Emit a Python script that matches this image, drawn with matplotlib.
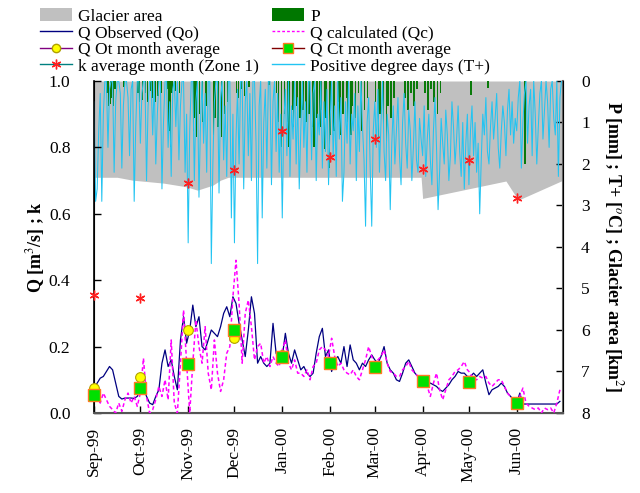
import numpy as np
import pandas as pd
import matplotlib
matplotlib.use("Agg")
import matplotlib.pyplot as plt
from matplotlib.lines import Line2D
from matplotlib.patches import Patch

plt.rcParams['font.family'] = ['Liberation Serif', 'DejaVu Serif']
plt.rcParams['mathtext.fontset'] = 'stix'

# ---------------- data ----------------
start = pd.Timestamp('1999-09-01')
n_days = 304
dates = pd.date_range(start, periods=n_days, freq='D')
month_starts = pd.date_range(start, periods=10, freq='MS')

# Observed discharge Qo (m3/s), every 2 days
qo = [0.075, 0.09, 0.105, 0.11, 0.125, 0.14, 0.13, 0.09, 0.05, 0.042,
      0.045, 0.045, 0.045, 0.044, 0.05, 0.07, 0.075, 0.05, 0.03, 0.025,
      0.05, 0.07, 0.15, 0.19, 0.14, 0.16, 0.11, 0.07, 0.22, 0.29,
      0.21, 0.25, 0.325, 0.26, 0.29, 0.2, 0.19, 0.22, 0.25, 0.24,
      0.23, 0.26, 0.3, 0.32, 0.29, 0.35, 0.33, 0.27, 0.22, 0.17,
      0.25, 0.35, 0.3, 0.15, 0.17, 0.15, 0.14, 0.15, 0.27, 0.18,
      0.16, 0.17, 0.24, 0.18, 0.15, 0.19, 0.16, 0.13, 0.14, 0.12,
      0.11, 0.12, 0.18, 0.23, 0.255, 0.17, 0.19, 0.125, 0.16, 0.17,
      0.15, 0.2, 0.14, 0.205, 0.16, 0.15, 0.13, 0.15, 0.14, 0.16,
      0.175, 0.16, 0.15, 0.17, 0.2, 0.15, 0.13, 0.12, 0.1, 0.095,
      0.12, 0.15, 0.16, 0.14, 0.12, 0.11, 0.1, 0.1, 0.09, 0.09,
      0.085, 0.08, 0.07, 0.065, 0.075, 0.085, 0.1, 0.11, 0.125, 0.12,
      0.12, 0.11, 0.11, 0.12, 0.11, 0.12, 0.13, 0.09, 0.055, 0.07,
      0.075, 0.08, 0.09, 0.08, 0.06, 0.05, 0.04, 0.03, 0.06, 0.027,
      0.027, 0.027, 0.027, 0.027, 0.027, 0.027, 0.027, 0.027, 0.027, 0.027,
      0.027, 0.035]

# Calculated discharge Qc (m3/s), every 2 days
qc = [0.09, 0.05, 0.03, 0.06, 0.04, 0.02, 0.01, 0.0, 0.03, 0.005,
      0.04, 0.06, 0.03, 0.05, 0.02, 0.06, 0.165, 0.05, 0.0, 0.01,
      0.04, 0.08, 0.05, 0.1, 0.04, 0.22, 0.03, 0.0, 0.15, 0.31,
      0.15, 0.0, 0.15, 0.28, 0.2, 0.15, 0.26, 0.12, 0.07, 0.22,
      0.12, 0.065, 0.1, 0.18, 0.2, 0.35, 0.46, 0.33, 0.15, 0.3,
      0.34, 0.26, 0.16, 0.2, 0.21, 0.15, 0.17, 0.14, 0.17, 0.15,
      0.14, 0.19, 0.22, 0.15, 0.13, 0.16, 0.12, 0.12, 0.11, 0.13,
      0.1, 0.14, 0.15, 0.19, 0.2, 0.19, 0.17, 0.225, 0.17, 0.14,
      0.15, 0.13, 0.12, 0.115, 0.13, 0.11, 0.1, 0.13, 0.16, 0.2,
      0.17, 0.15, 0.16, 0.17, 0.19, 0.15, 0.125, 0.12, 0.11, 0.11,
      0.13, 0.14, 0.155, 0.13, 0.12, 0.11, 0.1, 0.09, 0.08, 0.05,
      0.09, 0.12, 0.07, 0.04, 0.07, 0.1, 0.11, 0.125, 0.13, 0.14,
      0.155, 0.13, 0.12, 0.1, 0.1, 0.11, 0.105, 0.11, 0.09, 0.08,
      0.09, 0.1, 0.1, 0.08, 0.06, 0.05, 0.04, 0.03, 0.05, 0.075,
      0.03, 0.02, 0.015, 0.01, 0.015, 0.0, 0.015, 0.01, 0.015, 0.0,
      0.03, 0.07]

# Monthly averages (Sep-99 ... Jun-00)
qo_month = [0.075, 0.108, 0.25, 0.226, 0.175, 0.155, 0.14, 0.095, 0.09, 0.03]
qc_month = [0.054, 0.075, 0.148, 0.25, 0.17, 0.152, 0.14, 0.095, 0.094, 0.03]
k_month = [0.355, 0.347, 0.694, 0.732, 0.85, 0.77, 0.825, 0.735, 0.762, 0.648]

# Positive degree days T+ (daily), one row per month
tplus = (
    [0.5, 2.9, 2.6, 1.2, 0.3, 2.9, 0.8, 0.0, 0.0, 1.6, 0.2, 0.0, 0.0, 2.2, 0.5,
     0.0, 0.0, 0.3, 2.1, 0.6, 0.0, 0.0, 0.4, 1.8, 0.2, 0.0, 2.9, 1.1, 0.0, 0.0] +
    [1.5, 0.3, 0.0, 0.0, 2.4, 0.6, 0.0, 0.0, 1.3, 0.0, 2.0, 0.8, 0.0, 0.0, 2.6,
     1.0, 0.0, 0.0, 1.6, 0.5, 2.3, 0.2, 0.0, 1.1, 0.0, 1.9, 0.6, 0.0, 0.0, 2.2, 0.8] +
    [3.9, 1.2, 0.0, 0.0, 2.4, 0.5, 0.0, 2.8, 1.0, 0.0, 1.5, 0.3, 2.2, 0.0, 0.0,
     4.4, 2.0, 0.5, 0.0, 0.0, 2.7, 0.4, 0.0, 1.9, 0.6, 2.3, 0.0, 0.0, 3.3, 0.8] +
    [3.9, 1.4, 0.2, 2.0, 0.0, 0.0, 2.6, 0.5, 0.0, 1.8, 0.3, 2.4, 0.0, 0.0, 1.5,
     4.4, 0.6, 0.0, 3.3, 1.0, 0.2, 2.1, 0.0, 0.0, 2.5, 0.5, 0.0, 1.7, 0.3, 2.2, 0.8] +
    [3.3, 1.0, 0.2, 1.8, 0.0, 2.3, 0.6, 1.4, 0.0, 2.0, 0.4, 2.6, 1.2, 0.0, 1.6,
     0.5, 2.2, 0.0, 0.0, 1.9, 0.3, 0.0, 2.4, 0.8, 1.3, 0.0, 2.1, 0.5, 1.7, 0.2, 2.5] +
    [1.0, 0.0, 1.8, 0.6, 2.3, 0.0, 1.4, 0.4, 2.9, 2.2, 0.5, 1.5, 0.0, 2.0, 0.8,
     1.2, 0.3, 2.4, 0.6, 1.7, 0.0, 1.1, 1.9, 3.5, 1.0, 0.4, 2.1, 3.5, 1.2] +
    [0.5, 1.6, 0.2, 2.2, 1.0, 0.0, 1.7, 2.4, 0.8, 1.3, 3.1, 1.5, 0.6, 2.0, 1.2,
     0.4, 1.8, 2.5, 1.0, 0.3, 1.5, 2.1, 0.7, 1.2, 2.4, 1.6, 0.5, 1.9, 2.2, 0.9, 1.4] +
    [1.8, 0.6, 2.3, 1.4, 0.8, 1.9, 2.5, 1.2, 0.4, 1.6, 3.1, 2.2, 0.9, 1.5, 2.0,
     0.7, 1.3, 2.4, 1.8, 0.5, 1.1, 2.0, 1.4, 0.6, 1.7, 2.3, 1.0, 2.6, 1.5, 0.8] +
    [2.5, 1.2, 0.6, 1.8, 1.0, 2.2, 1.5, 3.2, 1.9, 0.8, 1.3, 0.4, 1.7, 2.0, 1.1,
     0.5, 1.4, 0.9, 0.3, 1.6, 2.1, 1.2, 0.6, 1.0, 1.8, 0.7, 0.2, 1.3, 0.5, 1.5, 0.9] +
    [1.2, 0.4, 0.0, 2.1, 1.0, 0.3, 0.0, 1.5, 0.6, 0.2, 1.8, 0.0, 0.8, 2.0, 1.1,
     0.3, 0.0, 1.4, 0.7, 0.0, 0.5, 1.6, 0.2, 0.0, 0.9, 1.3, 0.0, 2.3, 0.4, 0.0]
)

# Precipitation P (mm): day index since 1 Sep 1999 and amount
p_days = [8, 9, 10, 11, 12, 13, 19, 28, 29,
          31, 33, 34, 36, 37, 39, 41, 43, 47, 48, 49, 50, 52, 55,
          64, 65, 66, 68, 70, 72, 77, 78, 80, 82, 84, 86,
          92, 93, 95, 97, 100, 113, 118, 119, 121,
          123, 125, 126, 128, 129, 131, 133, 135, 137, 139, 141, 142, 144, 146, 147, 149, 150, 152,
          153, 155, 158, 159, 161, 163, 164, 166, 167, 169, 171, 173, 175, 177,
          182, 184, 185, 187, 189, 190, 192, 194, 201, 203, 205, 207, 209,
          214, 216, 218, 220, 222, 224,
          244, 255, 279]
p_mm = [0.3, 0.6, 0.55, 0.4, 0.6, 0.2, 0.15, 0.3, 0.5,
        0.45, 0.3, 0.5, 0.25, 0.4, 0.5, 0.35, 0.3, 0.2, 1.2, 1.6, 0.3, 0.25, 0.3,
        1.2, 0.9, 1.35, 0.8, 1.0, 0.6, 1.3, 0.9, 1.1, 1.35, 0.8, 0.5,
        0.3, 0.4, 0.2, 0.35, 0.15, 0.1, 0.3, 1.0, 1.6,
        0.8, 1.0, 1.6, 0.7, 1.1, 0.6, 0.9, 0.7, 1.0, 0.8, 1.1, 1.6, 0.9, 1.1, 0.7, 1.65, 0.9, 2.1,
        1.3, 1.2, 0.5, 1.3, 0.8, 0.4, 1.0, 1.3, 0.6, 0.9, 0.3, 1.2, 0.7, 0.4,
        0.5, 1.4, 0.8, 1.1, 1.45, 0.6, 0.9, 0.4, 0.4, 0.7, 0.3, 0.6, 0.2,
        0.3, 0.7, 0.2, 0.5, 0.8, 0.3,
        0.33, 0.17, 2.0]

# Glacier area (km2) at breakpoints
glacier_days = [0, 15, 25, 45, 60, 67, 77, 82, 87, 212, 213, 267, 275, 304]
glacier_km2 = [2.32, 2.32, 2.39, 2.46, 2.55, 2.63, 2.51, 2.39, 2.32, 2.32, 2.83, 2.41, 2.87, 2.39]

month_labels_fmt = '%b-%y'

# ---------------- plot ----------------
fig = plt.figure(figsize=(6.4, 4.93), dpi=100)
ax = fig.add_axes([0.147, 0.1623, 0.7327, 0.6734])
ax2 = ax.twinx()
ax.set_zorder(ax2.get_zorder() + 1)
ax.patch.set_visible(False)

g_dates = [start + pd.Timedelta(days=d) for d in glacier_days]
ax2.fill_between(g_dates, 0, glacier_km2, color='#C0C0C0', lw=0, zorder=1)
p_dates = [start + pd.Timedelta(days=d) for d in p_days]
ax2.bar(p_dates, p_mm, width=0.9, bottom=0, color='#0A7A0A', edgecolor='none',
        align='edge', zorder=2)
ax2.plot(dates, tplus, color='#22C4F2', lw=0.75, zorder=3)
ax2.set_ylim(8, 0)

q_dates = dates[::2]
ax.plot(q_dates, qo, color='#000080', lw=0.9, zorder=3)
ax.plot(q_dates, qc, color='#FF00FF', lw=1.1, ls=(0, (2.5, 1.8)), zorder=3)
ax.plot(month_starts, qo_month, ls='none', marker='o', ms=7, mfc='#FFFF00',
        mec='#B0A000', mew=0.8, zorder=5, clip_on=False)
ax.plot(month_starts, qc_month, ls='none', marker='s', ms=8, mfc='#00E000',
        mec='#FF7A20', mew=1.0, zorder=6, clip_on=False)
ax.plot(month_starts, k_month, ls='none', marker=(6, 2, 0), ms=7, mec='#FF2020',
        mew=1.0, zorder=7, clip_on=False)

ax.set_xlim(start, pd.Timestamp('2000-07-01'))
ax.set_ylim(0, 1.0)
yt = np.arange(0, 1.01, 0.2)
ax.set_yticks(yt)
ax.set_yticklabels([f'{v:.1f}' for v in yt])
ax2.set_yticks(range(0, 9))
ax.set_xticks(month_starts)
ax.set_xticklabels([d.strftime(month_labels_fmt) for d in month_starts], rotation=90)

ax.tick_params(axis='both', direction='in', labelsize=12.5, length=5, width=1)
ax2.tick_params(axis='y', direction='in', labelsize=12.5, length=5, width=1)
ax.tick_params(axis='y', pad=17)
ax.tick_params(axis='x', pad=10)
ax2.tick_params(axis='y', pad=13)

for a in (ax, ax2):
    a.spines['top'].set_visible(False)
ax.spines['left'].set_color('black')
ax.spines['bottom'].set_color('#555555')
ax2.spines['right'].set_color('#666666')
ax2.spines['right'].set_linewidth(1.5)
ax.spines['bottom'].set_linewidth(1.5)
ax.spines['left'].set_linewidth(1.2)

ax.set_ylabel('Q [m$^3$/s] ; k', fontsize=13, fontweight='bold', labelpad=1)
ax2.set_ylabel('P [mm] ; T+ [$^o$C] ; Glacier area [km$^2$]', fontsize=13,
               fontweight='bold', rotation=270, labelpad=25)

handles = [
    Patch(facecolor='#C0C0C0', edgecolor='none', label='Glacier area'),
    Line2D([], [], color='#000080', lw=1, label='Q Observed (Qo)'),
    Line2D([], [], color='#800080', lw=1, marker='o', ms=6, mfc='#FFFF00',
           mec='#B0A000', label='Q Ot month average'),
    Line2D([], [], color='#008080', lw=1, marker=(6, 2, 0), ms=7, mec='#FF2020',
           label='k average month (Zone 1)'),
    Patch(facecolor='#007700', edgecolor='none', label='P'),
    Line2D([], [], color='#FF00FF', lw=1, ls=(0, (2, 1.5)), label='Q calculated (Qc)'),
    Line2D([], [], color='#800000', lw=1, marker='s', ms=7, mfc='#00E000',
           mec='#FF7A20', label='Q Ct month average'),
    Line2D([], [], color='#22C4F2', lw=1, label='Positive degree days (T+)'),
]
fig.legend(handles=handles, loc='upper left', bbox_to_anchor=(0.062, 0.984), ncol=2,
           frameon=False, fontsize=12.5, handlelength=1.85, handleheight=0.8,
           labelspacing=0.0, columnspacing=0.75, handletextpad=0.35,
           borderaxespad=0.0, borderpad=0.0)

fig.savefig('out.png', dpi=100)
